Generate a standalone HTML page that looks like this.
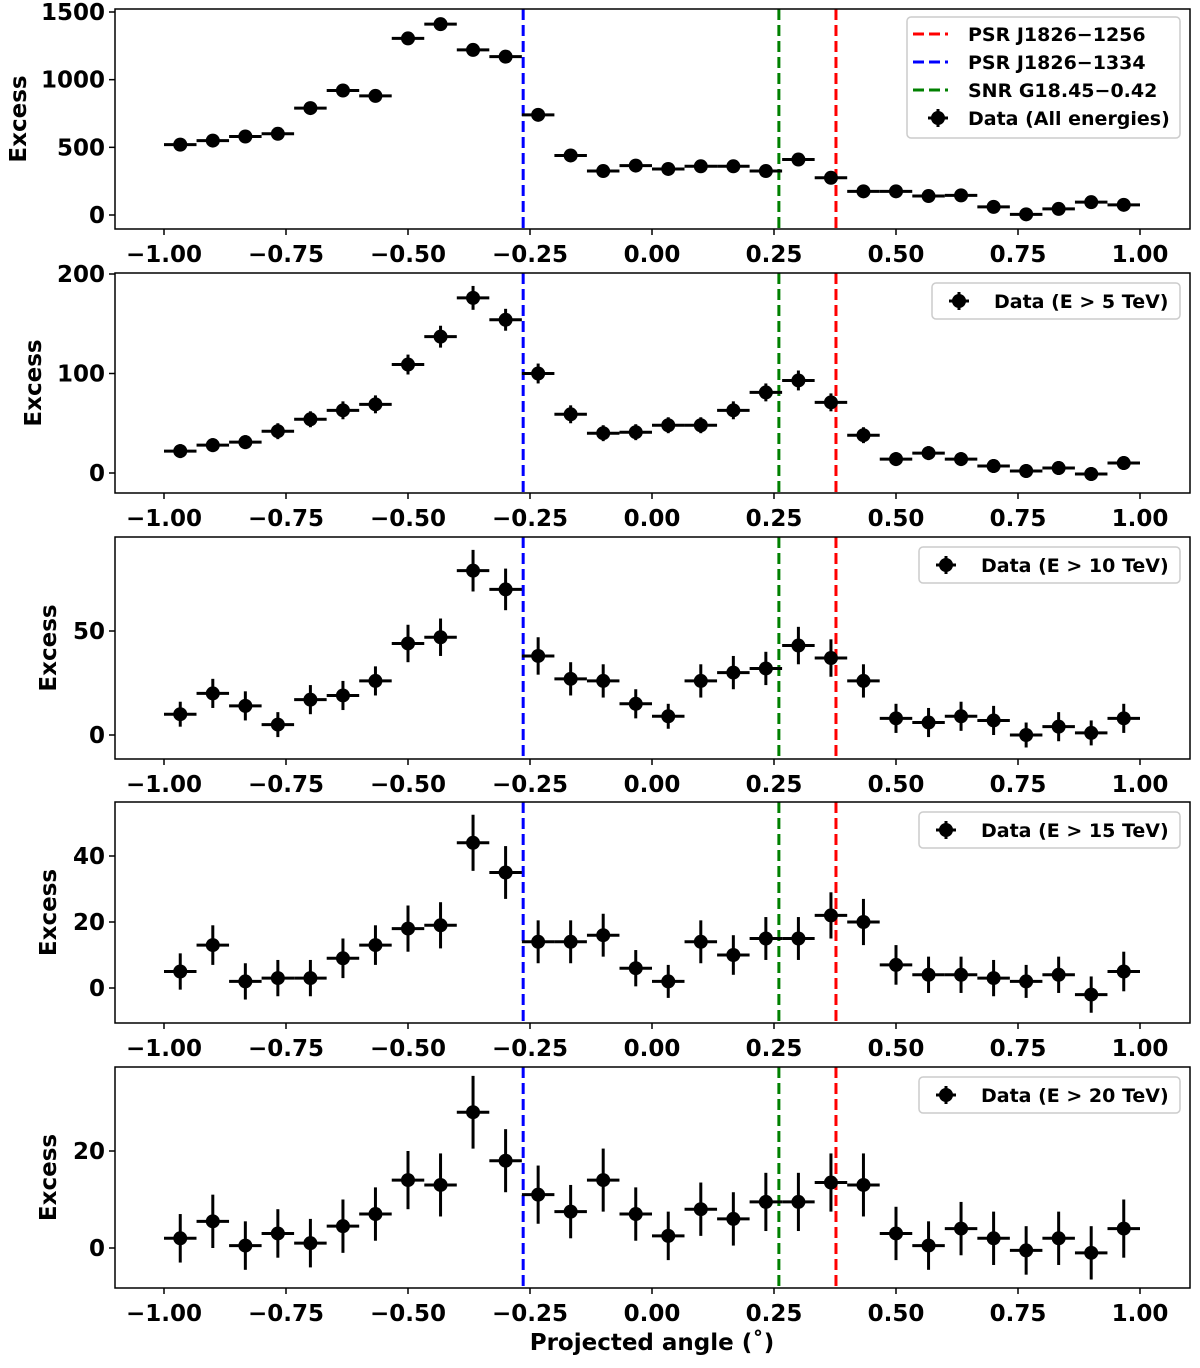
<!DOCTYPE html>
<html><head><meta charset="utf-8"><style>
body{margin:0;background:#fff}
svg text{font-family:"DejaVu Sans","Liberation Sans",sans-serif;font-weight:bold;fill:#000}
</style></head><body>
<svg id="fig" width="1200" height="1363" viewBox="0 0 1200 1363" xmlns="http://www.w3.org/2000/svg"></svg>
<script>
const centers = [-0.9667,-0.9,-0.8333,-0.7667,-0.7,-0.6333,-0.5667,-0.5,-0.4333,-0.3667,-0.3,-0.2333,-0.1667,-0.1,-0.0333,0.0333,0.1,0.1667,0.2333,0.3,0.3667,0.4333,0.5,0.5667,0.6333,0.7,0.7667,0.8333,0.9,0.9667];
const xTicks = [-1,-0.75,-0.5,-0.25,0,0.25,0.5,0.75,1];
const xTickLabels = ["\u22121.00","\u22120.75","\u22120.50","\u22120.25","0.00","0.25","0.50","0.75","1.00"];
const vAll = [520,550,580,600,790,920,880,1305,1410,1220,1170,740,440,325,365,340,360,360,325,410,275,175,175,140,145,60,5,45,95,75];
const eAll = [15,15,15,15,18,18,18,22,22,21,21,17,14,13,13,13,13,13,13,14,12,11,11,11,11,10,10,10,10,10];
const v5 = [22,28,31,42,54,63,69,109,137,176,154,100,59,40,41,48,48,63,81,93,71,38,14,20,14,7,2,5,-1,10];
const e5 = [7,7,7,8,8,9,9,10,11,12,11,10,9,8,8,8,8,9,9,10,9,8,7,7,7,7,7,7,7,7];
const v10 = [10,20,14,5,17,19,26,44,47,79,70,38,27,26,15,9,26,30,32,43,37,26,8,6,9,7,0,4,1,8];
const e10 = [6,7,7,6,7,7,7,9,9,10,10,9,8,8,7,6,8,8,8,9,9,8,7,7,7,7,6,7,6,7];
const v15 = [5,13,2,3,3,9,13,18,19,44,35,14,14,16,6,2,14,10,15,15,22,20,7,4,4,3,2,4,-2,5];
const e15 = [5.5,6,5.5,5.5,5.5,6,6,7,7,8.5,8,6.5,6.5,6.5,5.5,5,6.5,6,6.5,6.5,7,7,6,5.5,5.5,5.5,5,5.5,5.5,6];
const v20 = [2,5.5,0.5,3,1,4.5,7,14,13,28,18,11,7.5,14,7,2.5,8,6,9.5,9.5,13.5,13,3,0.5,4,2,-0.5,2,-1,4];
const e20 = [5,5.5,5,5,5,5.5,5.5,6,6.5,7.5,6.5,6,5.5,6.5,5.5,5,5.5,5.5,6,6,6,6.5,5.5,5,5.5,5.5,5,5.5,5.5,6];
const lineBlue = -0.264, lineGreen = 0.26, lineRed = 0.377;

const panels = [
 {name:"all",top:9,bot:229,tv:1500,tp:12,zp:215,ticks:[0,500,1000,1500],vals:vAll,errs:eAll,legend:"Data (All energies)",ylx:18},
 {name:"e5",top:273,bot:493,tv:200,tp:274,zp:473,ticks:[0,100,200],vals:v5,errs:e5,legend:"Data (E > 5 TeV)",ylx:33},
 {name:"e10",top:537,bot:759,tv:50,tp:631,zp:735,ticks:[0,50],vals:v10,errs:e10,legend:"Data (E > 10 TeV)",ylx:48},
 {name:"e15",top:802,bot:1023,tv:40,tp:856,zp:988,ticks:[0,20,40],vals:v15,errs:e15,legend:"Data (E > 15 TeV)",ylx:48},
 {name:"e20",top:1067,bot:1288,tv:20,tp:1151,zp:1248,ticks:[0,20],vals:v20,errs:e20,legend:"Data (E > 20 TeV)",ylx:48}
];
const L=115,R=1190;
const sx = x => 652 + x*488;
const svg=document.getElementById('fig');
const NS="http://www.w3.org/2000/svg";
function mk(tag,attrs,parent){const e=document.createElementNS(NS,tag);for(const k in attrs)e.setAttribute(k,attrs[k]);(parent||svg).appendChild(e);return e;}

panels.forEach((p,pi)=>{
  const sy = v => p.zp - v*(p.zp-p.tp)/p.tv;
  const g=mk('g',{});
  
  
  [[lineBlue,'#0000ff','blue'],[lineGreen,'#008000','green'],[lineRed,'#ff0000','red']].forEach(([x,c,n])=>{
    const l=mk('line',{x1:sx(x),x2:sx(x),y1:p.top,y2:p.bot,stroke:c,'stroke-width':3,'stroke-dasharray':'11,5'},g);
    
    
  });
  p.vals.forEach((v,i)=>{
    const x=sx(centers[i]), y=sy(v);
    const pg=mk('g',{},g);
    
    
    mk('line',{x1:sx(centers[i]-0.0333),x2:sx(centers[i]+0.0333),y1:y,y2:y,stroke:'#000','stroke-width':3},pg);
    mk('line',{x1:x,x2:x,y1:sy(v-p.errs[i]),y2:sy(v+p.errs[i]),stroke:'#000','stroke-width':3},pg);
    mk('circle',{cx:x,cy:y,r:7,fill:'#000'},pg);
  });
  const fr=mk('rect',{x:L,y:p.top,width:R-L,height:p.bot-p.top,fill:'none',stroke:'#000','stroke-width':1.5},g);
  
  
  xTicks.forEach((t,i)=>{
    mk('line',{x1:sx(t),x2:sx(t),y1:p.bot,y2:p.bot+6,stroke:'#000','stroke-width':1.5},g);
    const tx=mk('text',{x:sx(t),y:p.bot+33,'text-anchor':'middle','font-size':23},g);
    tx.textContent=xTickLabels[i];
    
    
  });
  p.ticks.forEach(t=>{
    mk('line',{x1:L-6,x2:L,y1:sy(t),y2:sy(t),stroke:'#000','stroke-width':1.5},g);
    const tx=mk('text',{x:L-10,y:sy(t)+8,'text-anchor':'end','font-size':23},g);
    tx.textContent=String(t);
    
    
  });
  const yl=mk('text',{x:0,y:0,'text-anchor':'middle','font-size':23,transform:`translate(${p.ylx+8},${(p.top+p.bot)/2}) rotate(-90)`},g);
  yl.textContent='Excess';
  
  
  const lg=mk('g',{},g);
  
  
  if(pi===0){
    mk('rect',{x:907,y:17,width:273,height:121,rx:4,fill:'#fff','fill-opacity':0.85,stroke:'#ccc','stroke-width':1.5},lg);
    const items=[['#ff0000','PSR J1826\u22121256'],['#0000ff','PSR J1826\u22121334'],['#008000','SNR G18.45\u22120.42']];
    items.forEach((it,k)=>{
      const yy=34+k*28;
      mk('line',{x1:913,x2:948,y1:yy,y2:yy,stroke:it[0],'stroke-width':3,'stroke-dasharray':'11,5'},lg);
      const t=mk('text',{x:968,y:yy+7,'font-size':19},lg);t.textContent=it[1];
      
      
    });
    const yy=34+3*28;
    mk('line',{x1:938,x2:938,y1:yy-9,y2:yy+9,stroke:'#000','stroke-width':3},lg);
    mk('line',{x1:928,x2:948,y1:yy,y2:yy,stroke:'#000','stroke-width':3},lg);
    mk('circle',{cx:938,cy:yy,r:7,fill:'#000'},lg);
    const t=mk('text',{x:968,y:yy+7,'font-size':19},lg);t.textContent=p.legend;
    
    
  } else {
    const w = p.name==='e5'?248:261;
    const bx=1180-w, by=p.top+10;
    mk('rect',{x:bx,y:by,width:w,height:36,rx:4,fill:'#fff','fill-opacity':0.85,stroke:'#ccc','stroke-width':1.5},lg);
    const cx=bx+27, cy=by+18;
    mk('line',{x1:cx,x2:cx,y1:cy-9,y2:cy+9,stroke:'#000','stroke-width':3},lg);
    mk('line',{x1:cx-10,x2:cx+10,y1:cy,y2:cy,stroke:'#000','stroke-width':3},lg);
    mk('circle',{cx:cx,cy:cy,r:7,fill:'#000'},lg);
    const t=mk('text',{x:bx+62,y:cy+7,'font-size':19},lg);t.textContent=p.legend;
    
    
  }
});
const xl=mk('text',{x:652,y:1350,'text-anchor':'middle','font-size':23});
xl.textContent='Projected angle (\u02da)';


</script>
</body></html>
